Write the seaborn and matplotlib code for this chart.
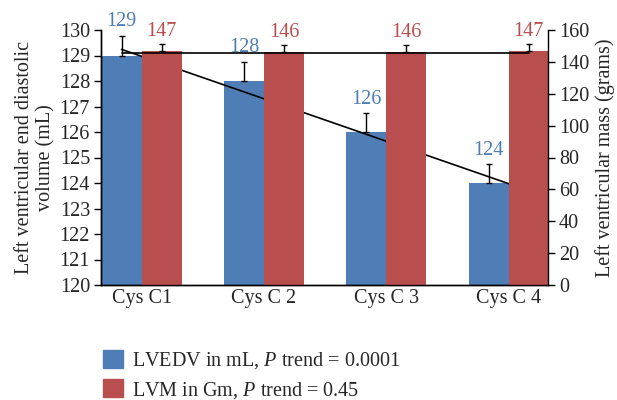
import numpy as np
import pandas as pd
import matplotlib
matplotlib.use("Agg")
import matplotlib.pyplot as plt
import matplotlib.patches as mpatches
import seaborn as sns

# Data
groups = ["Cys C1", "Cys C 2", "Cys C 3", "Cys C 4"]
lvedv = [129.0, 128.0, 126.0, 124.0]
lvedv_err = [0.78, 0.76, 0.73, 0.73]
lvedv_labels = ["129", "128", "126", "124"]
lvm = [146.6, 146.4, 146.4, 146.8]
lvm_err = [4.6, 4.2, 4.2, 4.4]
lvm_labels = ["147", "146", "146", "147"]
trend_lvedv = [129.24, 123.7]
trend_lvm = [145.7, 145.7]

blue = "#4F7DB5"
red = "#B84F4E"

sns.set_style("white")
plt.rcParams["font.family"] = ["Liberation Serif", "DejaVu Serif"]
plt.rcParams["mathtext.fontset"] = "custom"
plt.rcParams["mathtext.rm"] = "Liberation Serif"
plt.rcParams["mathtext.it"] = "Liberation Serif:italic"

df_left = pd.DataFrame({"group": groups * 2,
                        "series": ["LVEDV"] * 4 + ["LVM"] * 4,
                        "value": lvedv + [np.nan] * 4})
df_right = pd.DataFrame({"group": groups * 2,
                         "series": ["LVEDV"] * 4 + ["LVM"] * 4,
                         "value": [np.nan] * 4 + lvm})

fig, ax1 = plt.subplots(figsize=(6.17, 4.0), dpi=100)
fig.subplots_adjust(left=0.164, right=0.888, top=0.925, bottom=0.2875)
ax2 = ax1.twinx()

w = 0.655
for ax, d in ((ax1, df_left), (ax2, df_right)):
    sns.barplot(data=d, x="group", y="value", hue="series", hue_order=["LVEDV", "LVM"],
                palette=[blue, red], width=w, errorbar=None, legend=False, ax=ax,
                saturation=1, linewidth=0, edgecolor="none")

x = np.arange(len(groups))
off = w / 4
ax1.errorbar(x - off, lvedv, yerr=[np.zeros(4), lvedv_err], fmt="none",
             ecolor="black", elinewidth=1, capsize=2.5, capthick=1, zorder=5)
ax2.errorbar(x + off, lvm, yerr=[np.zeros(4), lvm_err], fmt="none",
             ecolor="black", elinewidth=1, capsize=2.5, capthick=1, zorder=5)

for xi, v, e, t in zip(x, lvedv, lvedv_err, lvedv_labels):
    ax1.annotate(t, (xi - off, v + e), xytext=(0, 3), textcoords="offset points",
                 ha="center", va="bottom", color=blue, fontsize=14.5)
for xi, v, e, t in zip(x, lvm, lvm_err, lvm_labels):
    ax2.annotate(t, (xi + off, v + e), xytext=(0, 2), textcoords="offset points",
                 ha="center", va="bottom", color=red, fontsize=14.5)

# trend lines
tx = [x[0] - off, x[-1] + off]
ax1.plot(tx, trend_lvedv, color="black", lw=1.2, zorder=6)
ax2.plot(tx, trend_lvm, color="black", lw=1.2, zorder=6)

ax1.set_xlim(-0.33, 3.32)
ax1.set_ylim(120, 130)
ax1.set_yticks(range(120, 131))
ax2.set_ylim(0, 160)
ax2.set_yticks(range(0, 161, 20))

ax1.set_xlabel("")
ax1.set_ylabel("Left ventricular end diastolic\nvolume (mL)", fontsize=14.5, labelpad=3,
               linespacing=1.15)
ax2.set_ylabel("Left ventricular mass (grams)", fontsize=14.5, labelpad=4)
ax2.set_xlabel("")

for ax in (ax1, ax2):
    ax.tick_params(axis="y", labelsize=14.5, length=5, width=1, direction="out",
                   color="black", pad=3)
    ax.tick_params(axis="x", labelsize=14.5, length=0, pad=3)
    ax.spines["top"].set_visible(False)
    for s in ("left", "right", "bottom"):
        ax.spines[s].set_color("black")
        ax.spines[s].set_linewidth(1)
ax1.spines["right"].set_visible(False)
ax1.tick_params(axis="y", left=True, right=False)
ax2.tick_params(axis="y", left=False, right=True)

handles = [mpatches.Patch(color=blue, label=r"LVEDV in mL, $P$ trend = 0.0001"),
           mpatches.Patch(color=red, label=r"LVM in Gm, $P$ trend = 0.45")]
fig.legend(handles=handles, loc="upper left", bbox_to_anchor=(0.167, 0.125),
           frameon=False, fontsize=14.5, handlelength=1.0, handleheight=1.0,
           handletextpad=0.45, labelspacing=0.4, borderpad=0, borderaxespad=0)

fig.savefig("out.png", dpi=100)
